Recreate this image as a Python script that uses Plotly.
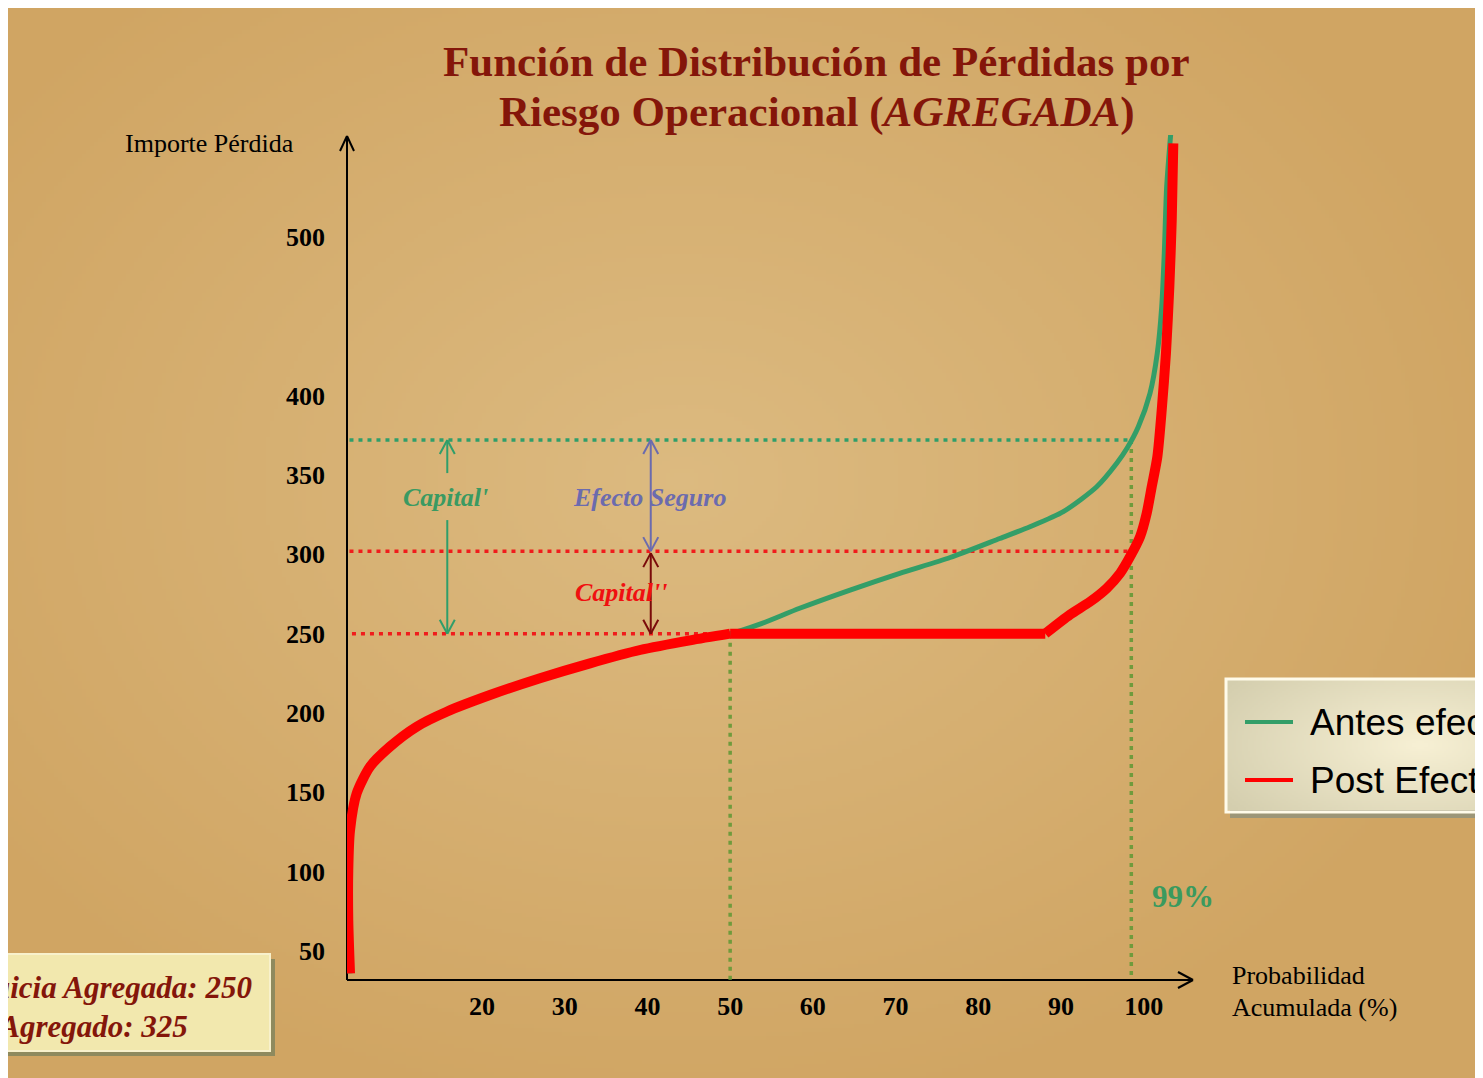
import base64, struct, zlib
import numpy as np
import plotly.graph_objects as go

# ---------------- data ----------------
prob_antes = [4.04, 3.83, 3.83, 4.04, 4.85, 6.46, 8.87, 12.10, 15.73, 20.96, 27.01,
              33.05, 39.10, 45.15, 50.0, 53.6, 58.4, 64.5, 70.5, 76.6, 82.6, 86.25,
              90.28, 94.32, 96.74, 98.0, 99.35, 100.76, 101.64, 102.18, 102.49, 102.78,
              103.27]
perdida_antes = [35.9, 69.3, 100.8, 126.0, 149.4, 166.2, 178.8, 191.4, 200.8, 211.3, 221.9,
                 231.3, 239.7, 245.8, 250, 256, 266, 277.5, 288, 298, 310, 317.4,
                 326.9, 342.6, 357.4, 367.0, 380.4, 401.5, 426.7, 456.1, 489.7, 531.7,
                 565.3]

prob_post = [4.04, 3.83, 3.83, 4.04, 4.85, 6.46, 8.87, 12.10, 15.73, 20.96, 27.01,
             33.05, 39.10, 45.15, 50.0, 88.1, 91.09, 93.5, 95.53, 97.14, 98.35,
             99.56, 100.36, 100.97, 101.65, 102.18, 102.69, 103.10, 103.39, 103.58]
perdida_post = [35.9, 69.3, 100.8, 126.0, 149.4, 166.2, 178.8, 191.4, 200.8, 211.3, 221.9,
                231.3, 239.7, 245.8, 250, 250, 262.0, 270.1, 278.6, 288.0, 298.5,
                311.1, 325.8, 342.6, 361.5, 391.0, 426.7, 468.7, 510.7, 559.0]

x_ticks = [20, 30, 40, 50, 60, 70, 80, 90, 100]
y_ticks = [50, 100, 150, 200, 250, 300, 350, 400, 500]

franquicia = 250
var99_antes = 372
var99_post = 302
prob_franquicia = 50
prob_99 = 98.5

# ---------------- layout geometry (screen pixels; page has an 8px body margin) ----------------
W, H = 1483, 1078
OFF = 8
L, R, T, B = 347, 1193, 135, 980
PW, PH = R - L, B - T
X0, XS = 316.6, 8.271          # pixel calibration of the x scale
Y50, YS = 951.0, 1.5867        # pixel calibration of the y scale
x_range = [(L - X0) / XS, (R - X0) / XS]
y_range = [50 + (Y50 - B) / YS, 50 + (Y50 - T) / YS]

def px(x):
    return (x - L) / PW

def py(y):
    return (B - y) / PH

SERIF = "Liberation Serif, Times New Roman, serif"
SANS = "Liberation Sans, Arial, sans-serif"

GREEN = "#339E68"
RED = "#FF0000"
TITLE = "#84160A"

# ---------------- background images ----------------
def png_uri(arr):
    h, w, _ = arr.shape
    raw = b"".join(b"\x00" + arr[i].tobytes() for i in range(h))
    def chunk(tag, data):
        return (struct.pack(">I", len(data)) + tag + data +
                struct.pack(">I", zlib.crc32(tag + data) & 0xFFFFFFFF))
    png = (b"\x89PNG\r\n\x1a\n" +
           chunk(b"IHDR", struct.pack(">IIBBBBB", w, h, 8, 2, 0, 0, 0)) +
           chunk(b"IDAT", zlib.compress(raw, 9)) + chunk(b"IEND", b""))
    return "data:image/png;base64," + base64.b64encode(png).decode()

def radial(w, h, cx, cy, rx, ry, inner, outer):
    yy, xx = np.mgrid[0:h, 0:w]
    d = np.sqrt(((xx - cx) / rx) ** 2 + ((yy - cy) / ry) ** 2)
    t = np.clip(d, 0, 1)[..., None]
    col = np.array(inner) * (1 - t) + np.array(outer) * t
    return col.round().astype(np.uint8)

bg_img = png_uri(radial(371, 270, 168, 118, 210, 160, (220, 186, 128), (208, 165, 99)))
leg_img = png_uri(radial(134, 65, 96, 32, 115, 55, (247, 240, 212), (212, 206, 174)))

images = [
    dict(source=bg_img, xref="paper", yref="paper", x=px(OFF), y=py(OFF),
         sizex=W / PW, sizey=H / PH, xanchor="left", yanchor="top",
         sizing="stretch", layer="below"),
    dict(source=leg_img, xref="paper", yref="paper", x=px(1227), y=py(680),
         sizex=268 / PW, sizey=130 / PH, xanchor="left", yanchor="top",
         sizing="stretch", layer="above"),
]

# ---------------- shapes ----------------
shapes = []

def seg(x0, y0, x1, y1, color, width=2, layer="above", dash="solid"):
    shapes.append(dict(type="line", xref="paper", yref="paper",
                       x0=px(x0), y0=py(y0), x1=px(x1), y1=py(y1),
                       line=dict(color=color, width=width, dash=dash), layer=layer))

def chevron(x, y, direction, color, width=2):
    s = 1 if direction == "up" else -1
    seg(x - 7.5, y + s * 14, x, y, color, width)
    seg(x + 7.5, y + s * 14, x, y, color, width)

def rect(x0, y0, x1, y1, fill, line_color=None, lw=0, layer="above"):
    shapes.append(dict(type="rect", xref="paper", yref="paper",
                       x0=px(x0), y0=py(y0), x1=px(x1), y1=py(y1),
                       fillcolor=fill,
                       line=dict(color=line_color or fill, width=lw), layer=layer))

DOT = "4px,5px"

def dline(x0, y0, x1, y1, color):
    shapes.append(dict(type="line", xref="x", yref="y", x0=x0, y0=y0, x1=x1, y1=y1,
                       line=dict(color=color, width=3.5, dash=DOT), layer="below"))

dline(x_range[0] + 0.3, var99_antes, prob_99, var99_antes, "#2F9E6A")
dline(x_range[0] + 0.3, var99_post, prob_99, var99_post, "#F01C1C")
dline(x_range[0] + 0.6, franquicia, prob_franquicia, franquicia, "#F01C1C")
dline(prob_franquicia, franquicia, prob_franquicia, y_range[0], "#6F9B3C")
dline(prob_99, var99_antes, prob_99, y_range[0], "#6F9B3C")

# axes with open arrowheads
seg(L, B, L, T + 2, "black", 2, layer="below")
seg(L, B, R - 1, B, "black", 2, layer="below")
seg(L - 7, T + 16, L, T + 1, "black", 2, layer="below")
seg(L + 7, T + 16, L, T + 1, "black", 2, layer="below")
seg(R - 15, B - 8, R, B, "black", 2, layer="below")
seg(R - 15, B + 8, R, B, "black", 2, layer="below")

# measurement arrows
yt = Y50 - (var99_antes - 50) * YS
yp = Y50 - (var99_post - 50) * YS
yf = Y50 - (franquicia - 50) * YS
xc1 = X0 + 15.8 * XS
xc2 = X0 + 40.4 * XS
# Capital' (green)
seg(xc1, yt, xc1, yt + 33, "#2F9E6A")
seg(xc1, yt + 80, xc1, yf, "#2F9E6A")
chevron(xc1, yt, "up", "#2F9E6A")
chevron(xc1, yf, "down", "#2F9E6A")
# Efecto Seguro (purple)
seg(xc2, yt, xc2, yp, "#6B6BAE")
chevron(xc2, yt, "up", "#6B6BAE")
chevron(xc2, yp, "down", "#6B6BAE")
# Capital'' (dark red)
seg(xc2, yp + 2, xc2, yf, "#7A0A0A")
chevron(xc2, yp + 2, "up", "#7A0A0A")
chevron(xc2, yf, "down", "#7A0A0A")

# bottom-left info box
rect(-10, 959, 275, 1056, "#8E8A5E", layer="above")
rect(-10, 954, 270, 1051, "#F2E8AE", "#F8F1CC", 2, layer="above")

# legend box (shadow + border + samples)
rect(1230, 683, 1500, 818, "#9C9678", layer="below")
shapes.append(dict(type="rect", xref="paper", yref="paper",
                   x0=px(1226), y0=py(679), x1=px(1500), y1=py(812),
                   fillcolor="rgba(0,0,0,0)", line=dict(color="#FFFBEA", width=3),
                   layer="above"))
seg(1245, 722, 1293, 722, GREEN, 4)
seg(1245, 780, 1293, 780, RED, 4)

# ---------------- annotations ----------------
ann = []

def text(x, y, s, size, color="black", family=SERIF, weight="normal", style="normal",
         xanchor="center"):
    ann.append(dict(x=px(x), y=py(y), xref="paper", yref="paper", text=s,
                    showarrow=False, xanchor=xanchor, yanchor="middle",
                    font=dict(family=family, size=size, color=color,
                              weight=weight, style=style)))

text(816, 62, "Función de Distribución de Pérdidas por", 43, TITLE, weight="bold")
text(816, 112, "Riesgo Operacional (<i>AGREGADA</i>)", 43, TITLE, weight="bold")
text(123, 143, "Importe Pérdida", 26, xanchor="left")
text(1150, 896, "99%", 31, "#3A9A5E", weight="bold", xanchor="left")
text(1230, 975, "Probabilidad", 26, xanchor="left")
text(1230, 1007, "Acumulada (%)", 26, xanchor="left")
text(445, 498, "Capital'", 26, "#3A9A62", weight="bold", style="italic")
text(649, 498, "Efecto Seguro", 26, "#6B6BAE", weight="bold", style="italic")
text(621, 592, "Capital''", 26, "#F01010", weight="bold", style="italic")
text(1308, 722, "Antes efecto Seguro", 37, family=SANS, xanchor="left")
text(1308, 780, "Post Efecto Seguro", 37, family=SANS, xanchor="left")
text(254, 987, "Franquicia Agregada: 250", 31, TITLE, weight="bold", style="italic",
     xanchor="right")
text(190, 1026, "Límite Agregado: 325", 31, TITLE, weight="bold", style="italic",
     xanchor="right")

# ---------------- figure ----------------
fig = go.Figure()
fig.add_trace(go.Scatter(x=prob_antes, y=perdida_antes, mode="lines",
                         name="Antes efecto Seguro", legendgroup="antes",
                         line=dict(color=GREEN, width=5, shape="spline", smoothing=0.7)))

# Post curve: smooth lower part, flat deductible stretch, smooth upper part
i_a = prob_post.index(prob_franquicia)
i_b = i_a + 1
segments = [(0, i_a + 1, "spline"), (i_a, i_b + 1, "linear"), (i_b, len(prob_post), "spline")]
for k, (s0, s1, shp) in enumerate(segments):
    fig.add_trace(go.Scatter(x=prob_post[s0:s1], y=perdida_post[s0:s1], mode="lines",
                             name="Post Efecto Seguro", legendgroup="post",
                             showlegend=(k == 0),
                             line=dict(color=RED, width=10, shape=shp, smoothing=0.7)))

tickfont = dict(family=SERIF, size=26, color="black", weight="bold")
fig.update_layout(
    width=W, height=H,
    margin=dict(l=L - OFF, r=W - (R - OFF), t=T - OFF, b=H - (B - OFF), autoexpand=False),
    paper_bgcolor="#D1A663", plot_bgcolor="rgba(0,0,0,0)",
    showlegend=False,
    xaxis=dict(range=x_range, tickvals=x_ticks, ticktext=[str(v) for v in x_ticks],
               showgrid=False, zeroline=False, showline=False, ticks="",
               tickfont=tickfont, ticklabelstandoff=8, fixedrange=True),
    yaxis=dict(range=y_range, tickvals=y_ticks, ticktext=[str(v) for v in y_ticks],
               showgrid=False, zeroline=False, showline=False, ticks="",
               tickfont=tickfont, ticklabelstandoff=21, fixedrange=True),
    shapes=shapes, annotations=ann, images=images,
)

fig.write_html("out.html")
